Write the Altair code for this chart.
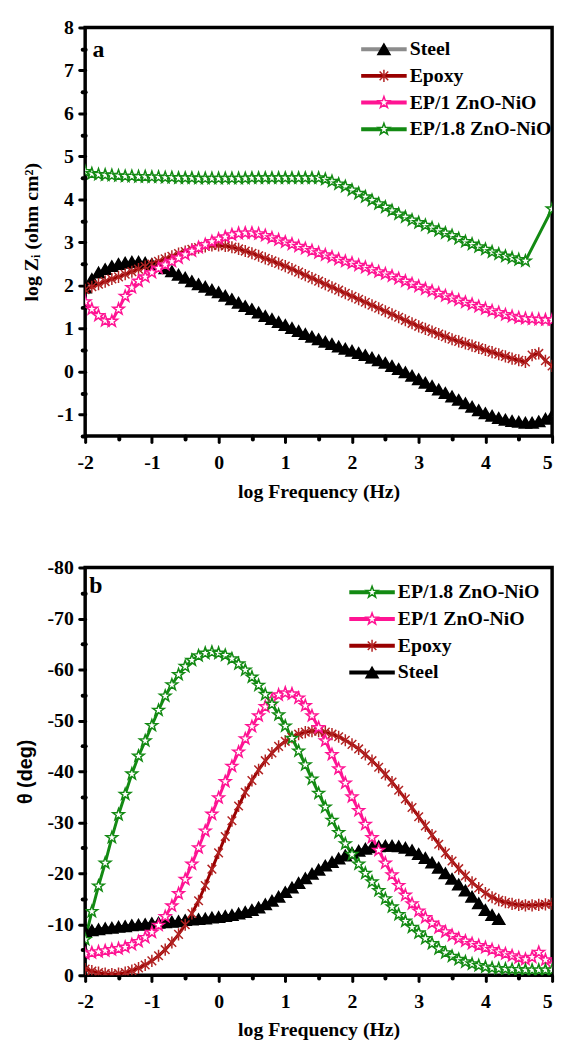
import altair as alt
import pandas as pd

SERIF = "Liberation Serif"
SANS = "Liberation Sans"

FREQ = [-2.0, -1.9, -1.8, -1.7, -1.6, -1.5, -1.4, -1.3, -1.2, -1.1,
        -1.0, -0.9, -0.8, -0.7, -0.6, -0.5, -0.4, -0.3, -0.2, -0.1,
        0.0, 0.1, 0.2, 0.3, 0.4, 0.5, 0.6, 0.7, 0.8, 0.9,
        1.0, 1.1, 1.2, 1.3, 1.4, 1.5, 1.6, 1.7, 1.8, 1.9,
        2.0, 2.1, 2.2, 2.3, 2.4, 2.5, 2.6, 2.7, 2.8, 2.9,
        3.0, 3.1, 3.2, 3.3, 3.4, 3.5, 3.6, 3.7, 3.8, 3.9,
        4.0, 4.1, 4.2, 4.3, 4.4, 4.5, 4.6, 4.7, 4.8, 4.9,
        5.0]

SERIES = ["Steel", "Epoxy", "EP/1 ZnO-NiO", "EP/1.8 ZnO-NiO"]

LOGZ_STEEL = [1.95, 2.15, 2.3, 2.38, 2.45, 2.5, 2.53, 2.55, 2.55, 2.53,
              2.5, 2.45, 2.4, 2.33, 2.25, 2.18, 2.1, 2.03, 1.97, 1.9,
              1.84, 1.76, 1.68, 1.6, 1.52, 1.45, 1.37, 1.29, 1.22, 1.15,
              1.08, 1.01, 0.94, 0.87, 0.81, 0.75, 0.69, 0.64, 0.58, 0.53,
              0.48, 0.43, 0.38, 0.32, 0.26, 0.2, 0.13, 0.06, -0.02, -0.1,
              -0.18, -0.26, -0.34, -0.42, -0.5, -0.58, -0.66, -0.74, -0.82, -0.9,
              -0.97, -1.03, -1.08, -1.12, -1.15, -1.17, -1.19, -1.19, -1.16, -1.1,
              -1.02]
LOGZ_EPOXY = [1.9, 1.97, 2.03, 2.09, 2.15, 2.2, 2.26, 2.32, 2.38, 2.44,
              2.5, 2.56, 2.62, 2.68, 2.74, 2.79, 2.84, 2.88, 2.91, 2.93,
              2.93, 2.92, 2.89, 2.85, 2.8, 2.75, 2.69, 2.63, 2.57, 2.51,
              2.45, 2.38, 2.31, 2.24, 2.17, 2.1, 2.03, 1.96, 1.89, 1.82,
              1.75, 1.68, 1.61, 1.54, 1.47, 1.4, 1.33, 1.26, 1.19, 1.12,
              1.05, 0.99, 0.93, 0.87, 0.81, 0.75, 0.7, 0.65, 0.6, 0.55,
              0.5, 0.45, 0.4, 0.35, 0.3, 0.26, 0.22, 0.38, 0.42, 0.25,
              0.13]
LOGZ_EP1 = [1.62, 1.45, 1.3, 1.18, 1.17, 1.45, 1.75, 1.95, 2.1, 2.2,
            2.3, 2.4, 2.48, 2.56, 2.64, 2.72, 2.8, 2.88, 2.95, 3.02,
            3.08, 3.13, 3.18, 3.21, 3.22, 3.22, 3.2, 3.16, 3.11, 3.06,
            3.01, 2.96, 2.91, 2.86, 2.81, 2.76, 2.71, 2.66, 2.61, 2.56,
            2.52, 2.47, 2.42, 2.37, 2.32, 2.27, 2.22, 2.16, 2.1, 2.04,
            1.98, 1.92, 1.87, 1.82, 1.76, 1.71, 1.66, 1.61, 1.56, 1.51,
            1.46, 1.41, 1.37, 1.32, 1.28, 1.25, 1.23, 1.22, 1.21, 1.2,
            1.2]
LOGZ_EP18 = [4.65, 4.6, 4.58, 4.57, 4.56, 4.55, 4.54, 4.54, 4.53, 4.53,
             4.52, 4.52, 4.51, 4.51, 4.5, 4.5, 4.5, 4.49, 4.49, 4.49,
             4.49, 4.49, 4.49, 4.49, 4.49, 4.5, 4.5, 4.5, 4.5, 4.5,
             4.5, 4.5, 4.5, 4.5, 4.5, 4.5, 4.47, 4.42, 4.36, 4.3,
             4.22, 4.14, 4.06, 3.98, 3.9, 3.82, 3.74, 3.66, 3.59, 3.52,
             3.46, 3.4, 3.34, 3.28, 3.22, 3.16, 3.09, 3.02, 2.96, 2.9,
             2.84, 2.78, 2.73, 2.68, 2.64, 2.6, 2.57, None, None, None,
             3.78]

TH_STEEL = [-8.6, -8.8, -9.0, -9.2, -9.3, -9.5, -9.6, -9.8, -9.9, -10.0,
            -10.2, -10.3, -10.4, -10.5, -10.6, -10.8, -10.9, -11.0, -11.1, -11.3,
            -11.4, -11.6, -11.8, -12.1, -12.4, -12.8, -13.3, -13.9, -14.6, -15.4,
            -16.3, -17.2, -18.1, -19.0, -19.9, -20.7, -21.5, -22.2, -22.9, -23.5,
            -24.0, -24.4, -24.8, -25.1, -25.3, -25.4, -25.4, -25.3, -25.0, -24.5,
            -23.8, -23.0, -22.1, -21.1, -20.0, -18.9, -17.8, -16.6, -15.4, -14.1,
            -12.8, -11.8, -11.0, None, None, None, None, None, None, None,
            None]
TH_EPOXY = [-1.2, -0.8, -0.5, -0.3, -0.2, -0.3, -0.5, -0.9, -1.4, -2.0,
            -2.8, -3.8, -5.0, -6.4, -8.0, -9.9, -12.1, -14.6, -17.6, -20.8,
            -24.0, -27.2, -30.3, -33.2, -35.9, -38.2, -40.3, -42.1, -43.6, -44.9,
            -45.9, -46.7, -47.3, -47.7, -47.9, -47.9, -47.7, -47.3, -46.8, -46.1,
            -45.3, -44.4, -43.3, -42.1, -40.8, -39.4, -37.9, -36.3, -34.6, -32.9,
            -31.1, -29.3, -27.5, -25.7, -24.0, -22.4, -20.9, -19.5, -18.2, -17.1,
            -16.1, -15.3, -14.7, -14.3, -14.0, -13.8, -13.7, -13.7, -13.8, -13.9,
            -14.0]
TH_EP1 = [-4.2, -4.4, -4.6, -4.8, -5.0, -5.2, -5.5, -6.0, -6.6, -7.4,
          -8.4, -9.8, -11.5, -13.6, -16.0, -18.8, -21.8, -25.0, -28.3, -31.6,
          -34.8, -38.0, -41.0, -43.8, -46.4, -48.8, -50.9, -52.7, -54.1, -55.0,
          -55.4, -55.2, -54.4, -52.9, -50.9, -48.6, -46.0, -43.3, -40.5, -37.7,
          -35.0, -32.3, -29.6, -27.0, -24.5, -22.0, -19.7, -17.6, -15.7, -14.0,
          -12.6, -11.3, -10.2, -9.3, -8.5, -7.8, -7.2, -6.7, -6.2, -5.8,
          -5.4, -5.0, -4.6, -4.2, -3.8, -3.4, -3.1, -3.5, -4.5, -3.0,
          -2.0]
TH_EP18 = [-7.0, -12.5, -17.5, -22.0, -27.0, -31.5, -35.5, -39.5, -43.0, -46.0,
           -49.0, -52.0, -54.8, -57.0, -59.0, -60.6, -61.8, -62.7, -63.2, -63.4,
           -63.2, -62.8, -62.1, -61.1, -59.9, -58.5, -56.9, -55.1, -53.2, -51.1,
           -48.9, -46.5, -44.0, -41.3, -38.5, -35.7, -33.0, -30.4, -28.0, -25.8,
           -23.7, -21.8, -20.0, -18.3, -16.6, -15.0, -13.4, -11.9, -10.6, -9.4,
           -8.3, -7.2, -6.2, -5.2, -4.4, -3.7, -3.1, -2.6, -2.2, -1.9,
           -1.6, -1.4, -1.3, -1.2, -1.1, -1.1, -1.0, -1.0, -1.0, -1.0,
           -1.0]

X_MAJOR = [-2, -1, 0, 1, 2, 3, 4, 5]
X_MINOR = [-1.5, -0.5, 0.5, 1.5, 2.5, 3.5, 4.5]
Z_MAJOR = [-1, 0, 1, 2, 3, 4, 5, 6, 7, 8]
Z_MINOR = [-1.5, -0.5, 0.5, 1.5, 2.5, 3.5, 4.5, 5.5, 6.5, 7.5]
T_MAJOR = [-80, -70, -60, -50, -40, -30, -20, -10, 0]
T_MINOR = [-75, -65, -55, -45, -35, -25, -15, -5]

ASTERISK = "M0,-1L0,1M-0.71,-0.71L0.71,0.71M-0.71,0.71L0.71,-0.71"
STAR = ("M0,-1L0.235,-0.324L0.951,-0.309L0.38,0.124L0.588,0.809L0,0.4"
        "L-0.588,0.809L-0.38,0.124L-0.951,-0.309L-0.235,-0.324Z")
LINE_PATH = "M-4.6,0L4.6,0"

STYLE = {
    "Steel": dict(shape="triangle-up", fill="#000000", stroke="#000000"),
    "Epoxy": dict(shape=ASTERISK, fill="transparent", stroke="#b22222"),
    "EP/1 ZnO-NiO": dict(shape=STAR, fill="white", stroke="#ff1493"),
    "EP/1.8 ZnO-NiO": dict(shape=STAR, fill="white", stroke="#138a13"),
}
LINE_TOP = {"Steel": "#8c8c8c", "Epoxy": "#990000",
            "EP/1 ZnO-NiO": "#ff1493", "EP/1.8 ZnO-NiO": "#138a13"}
LINE_BOT = {"Steel": "#000000", "Epoxy": "#990000",
            "EP/1 ZnO-NiO": "#ff1493", "EP/1.8 ZnO-NiO": "#138a13"}

FS = 20


def frame(values_by_series):
    rows = []
    for s, vals in values_by_series.items():
        for f, v in zip(FREQ, vals):
            if v is not None:
                rows.append({"f": f, "v": v, "series": s, "mk": "m:" + s})
    return pd.DataFrame(rows)


def axis_common():
    return dict(grid=False, domain=False, tickColor="black", tickCap="round",
                labelFont=SERIF, labelFontWeight="bold", labelFontSize=FS,
                labelColor="black", titleColor="black")


def panel(df, ydom, yrev, ymaj, ymin, ytitle, ytitle_font, ytitle_pad, xtitle_pad,
          order, line_colors, lx, ly, lab_df, height):
    xs = alt.Scale(domain=[-2, 5], nice=False, zero=False)
    ys = alt.Scale(domain=ydom, reverse=yrev, nice=False, zero=False)
    x_major = alt.Axis(values=X_MAJOR, labelExpr="'' + datum.value",
                       title="log Frequency (Hz)", orient="bottom",
                       tickSize=6, tickWidth=3, labelPadding=11,
                       labelAlign={"condition": {"test": "datum.value == 5",
                                                 "value": "right"},
                                   "value": "center"},
                       titleFont=SERIF, titleFontSize=FS, titleFontWeight="bold",
                       titlePadding=xtitle_pad, labelFlush=False, **axis_common())
    x_minor = alt.Axis(values=X_MINOR, labels=False, title=None, orient="bottom",
                       tickSize=3, tickWidth=4, **axis_common())
    y_major = alt.Axis(values=ymaj, labelExpr="'' + datum.value", title=ytitle,
                       orient="left", tickSize=6, tickWidth=3, labelPadding=6,
                       titleFont=ytitle_font, titleFontSize=FS, titleFontWeight="bold",
                       titlePadding=ytitle_pad, minExtent=41, maxExtent=41,
                       **axis_common())
    y_minor = alt.Axis(values=ymin, labels=False, title=None, orient="left",
                       tickSize=3, tickWidth=4, **axis_common())

    line_legend = alt.Legend(orient="none", legendX=lx, legendY=ly, title=None,
                             symbolType=LINE_PATH, symbolSize=100,
                             symbolStrokeWidth=4, labelFont=SERIF,
                             labelFontSize=FS, labelFontWeight="bold",
                             labelColor="black", labelOffset=16, rowPadding=7,
                             padding=0)
    mk_legend = alt.Legend(orient="none", legendX=lx, legendY=ly, title=None,
                           symbolSize=150, symbolStrokeWidth=1.5,
                           labelFont=SERIF, labelFontSize=FS,
                           labelFontWeight="bold", labelOpacity=0,
                           labelOffset=16, rowPadding=7, padding=0)
    mk_order = ["m:" + s for s in order]

    lines = alt.Chart(df).mark_line(strokeWidth=3, clip=True).encode(
        x=alt.X("f:Q", scale=xs, axis=x_major),
        y=alt.Y("v:Q", scale=ys, axis=y_major),
        color=alt.Color("series:N",
                        scale=alt.Scale(domain=order,
                                        range=[line_colors[s] for s in order]),
                        legend=line_legend),
    )
    pts = alt.Chart(df).mark_point(size=150, strokeWidth=1.5, opacity=1,
                                   clip=True).encode(
        x=alt.X("f:Q", scale=xs, axis=x_minor),
        y=alt.Y("v:Q", scale=ys, axis=y_minor),
        shape=alt.Shape("mk:N", scale=alt.Scale(
            domain=mk_order, range=[STYLE[s]["shape"] for s in order]),
            legend=mk_legend),
        fill=alt.Fill("mk:N", scale=alt.Scale(
            domain=mk_order, range=[STYLE[s]["fill"] for s in order]),
            legend=mk_legend),
        stroke=alt.Stroke("mk:N", scale=alt.Scale(
            domain=mk_order, range=[STYLE[s]["stroke"] for s in order]),
            legend=mk_legend),
    )
    lab = alt.Chart(lab_df).mark_text(font=SERIF, fontWeight="bold", fontSize=24,
                                      align="center", baseline="middle",
                                      color="black").encode(
        x=alt.X("f:Q", scale=xs, axis=None),
        y=alt.Y("v:Q", scale=ys, axis=None),
        text="t:N",
    )
    return alt.layer(lines, pts, lab).resolve_axis(
        x="independent", y="independent").properties(width=472, height=height)


df_a = frame({"Steel": LOGZ_STEEL, "Epoxy": LOGZ_EPOXY,
              "EP/1 ZnO-NiO": LOGZ_EP1, "EP/1.8 ZnO-NiO": LOGZ_EP18})
df_b = frame({"Steel": TH_STEEL, "Epoxy": TH_EPOXY,
              "EP/1 ZnO-NiO": TH_EP1, "EP/1.8 ZnO-NiO": TH_EP18})

lab_a = pd.DataFrame({"f": [-1.8], "v": [7.47], "t": ["a"]})
lab_b = pd.DataFrame({"f": [-1.84], "v": [-76.3], "t": ["b"]})

top = panel(df_a, [-1.5, 8], False, Z_MAJOR, Z_MINOR,
            "log Z\u1d62 (ohm cm\u00b2)", SERIF, 3, 9,
            SERIES, LINE_TOP, 292, 12, lab_a, 413)
bottom = panel(df_b, [-80, 0], True, T_MAJOR, T_MINOR,
               "\u03b8 (deg)", SANS, 9, 8,
               list(reversed(SERIES)), LINE_BOT, 280, 15, lab_b, 412)

chart = alt.vconcat(top, bottom, spacing=133, bounds="flush").resolve_scale(
    color="independent", shape="independent", fill="independent",
    stroke="independent"
).configure(
    padding={"left": 6, "top": 2, "right": 0, "bottom": 0}
).configure_view(stroke="black", strokeWidth=3.5)

chart.save("out.html", embed_options={"renderer": "svg", "actions": False})
